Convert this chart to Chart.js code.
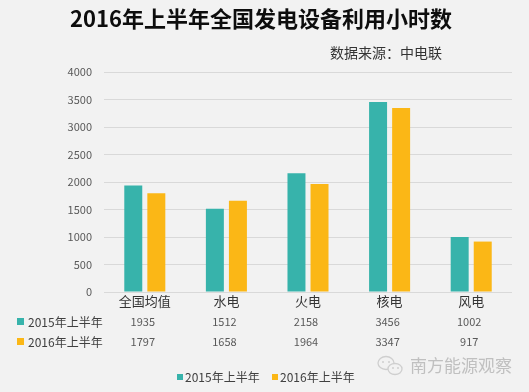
<!DOCTYPE html>
<html>
<head>
<meta charset="utf-8">
<script src="https://cdn.jsdelivr.net/npm/chart.js@4/dist/chart.umd.min.js"></script>
<style>
  html, body { margin: 0; padding: 0; background: #f2f2f2; }
  canvas { display: block; }
</style>
</head>
<body>
<canvas id="c" width="529" height="392"></canvas>
<script>
const categories = ["全国均值", "水电", "火电", "核电", "风电"];
const seriesNames = ["2015年上半年", "2016年上半年"];
const values2015 = [1935, 1512, 2158, 3456, 1002];
const values2016 = [1797, 1658, 1964, 3347, 917];
const titleText = "2016年上半年全国发电设备利用小时数";
const sourceText = "数据来源：中电联";
const watermarkText = "南方能源观察";

const FONT = '"Noto Sans CJK SC", "Noto Sans", sans-serif';
const colors = ["#37b3ab", "#fbb716"];
const seriesValues = [values2015, values2016];

const decor = {
  id: 'decor',
  beforeDraw(chart) {
    const ctx = chart.ctx;
    ctx.save();
    ctx.fillStyle = '#f2f2f2';
    ctx.fillRect(0, 0, chart.width, chart.height);
    ctx.restore();
  },
  afterDraw(chart) {
    const ctx = chart.ctx;
    const x = chart.scales.x;
    ctx.save();
    // title
    ctx.fillStyle = '#0d0d0d';
    ctx.font = 'bold 22px ' + FONT;
    ctx.textAlign = 'center';
    ctx.textBaseline = 'middle';
    ctx.fillText(titleText, 261, 19);
    // source
    ctx.fillStyle = '#333333';
    ctx.font = '14px ' + FONT;
    ctx.textAlign = 'right';
    ctx.fillText(sourceText, 442, 53);
    // data table
    const rowY = [322, 342];
    seriesValues.forEach((vals, s) => {
      ctx.fillStyle = colors[s];
      ctx.fillRect(17, rowY[s] - 4, 7, 7);
      ctx.fillStyle = '#404040';
      ctx.font = '12px ' + FONT;
      ctx.textAlign = 'left';
      ctx.fillText(seriesNames[s], 28, rowY[s]);
      ctx.fillStyle = '#595959';
      ctx.font = '11px ' + FONT;
      ctx.textAlign = 'center';
      vals.forEach((v, i) => {
        ctx.fillText(String(v), x.getPixelForValue(i) - 2, rowY[s]);
      });
    });
    // bottom legend
    const legX = [177, 272];
    seriesNames.forEach((n, s) => {
      ctx.fillStyle = colors[s];
      ctx.fillRect(legX[s], 374, 6, 6);
      ctx.fillStyle = '#404040';
      ctx.font = '12px ' + FONT;
      ctx.textAlign = 'left';
      ctx.fillText(n, legX[s] + 8, 377);
    });
    // watermark icon (two speech bubbles)
    ctx.strokeStyle = '#cfcfcf';
    ctx.fillStyle = '#f2f2f2';
    ctx.lineWidth = 1.3;
    ctx.beginPath();
    ctx.ellipse(386, 363, 8, 6.5, 0, 0, Math.PI * 2);
    ctx.fill(); ctx.stroke();
    ctx.beginPath();
    ctx.ellipse(395, 369, 7, 5.5, 0, 0, Math.PI * 2);
    ctx.fill(); ctx.stroke();
    ctx.fillStyle = '#cfcfcf';
    [[383, 362], [389, 362], [393, 368], [398, 368]].forEach(p => {
      ctx.beginPath(); ctx.arc(p[0], p[1], 1, 0, Math.PI * 2); ctx.fill();
    });
    // watermark text
    ctx.fillStyle = '#c0c0c0';
    ctx.font = '17px ' + FONT;
    ctx.textAlign = 'left';
    ctx.fillText(watermarkText, 410, 366);
    ctx.restore();
  }
};

new Chart(document.getElementById('c'), {
  type: 'bar',
  data: {
    labels: categories,
    datasets: [
      { label: seriesNames[0], data: values2015, backgroundColor: colors[0], barPercentage: 0.78, categoryPercentage: 0.565 },
      { label: seriesNames[1], data: values2016, backgroundColor: colors[1], barPercentage: 0.78, categoryPercentage: 0.565 }
    ]
  },
  options: {
    responsive: false,
    devicePixelRatio: 1,
    animation: false,
    layout: { padding: { top: 72, right: 17, left: 0, bottom: 0 } },
    plugins: { legend: { display: false }, tooltip: { enabled: false } },
    scales: {
      y: {
        min: 0, max: 4000,
        ticks: { stepSize: 500, color: '#595959', font: { size: 11, family: FONT }, padding: 12,
                 callback: (v) => String(v) },
        grid: { color: '#d9d9d9', drawTicks: false },
        border: { display: false },
        afterFit(s) { s.width = 104; }
      },
      x: {
        ticks: { color: '#333333', font: { size: 13, family: FONT }, padding: 1 },
        grid: { display: false, drawTicks: false },
        border: { display: false },
        afterFit(s) { s.height = 100; }
      }
    }
  },
  plugins: [decor]
});
</script>
</body>
</html>
